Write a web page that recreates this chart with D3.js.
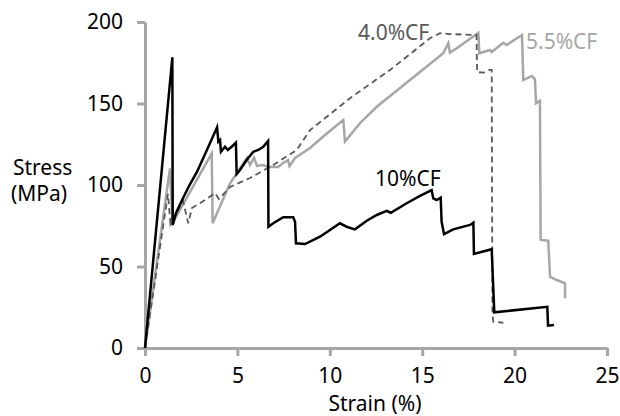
<!DOCTYPE html>
<html>
<head>
<meta charset="utf-8">
<script src="https://cdn.jsdelivr.net/npm/d3@7"></script>
<style>
  body { margin: 0; background: #fff; }
  text { font-family: "Noto Sans", sans-serif; }
</style>
</head>
<body>
<svg width="620" height="416"></svg>
<script>
// data (strain %, stress MPa)
const strain10 = [0, 1.48, 1.50, 1.68, 2.06, 2.44, 2.81, 3.35, 3.90, 3.97, 4.06, 4.11, 4.33, 4.48, 4.69, 4.92, 4.96, 5.14, 5.50, 5.86, 6.13, 6.40, 6.66, 6.68, 6.94, 7.48, 8.02, 8.12, 8.17, 8.66, 9.47, 10.55, 10.91, 11.36, 12.0, 12.54, 13.08, 13.30, 14.16, 14.88, 15.51, 15.60, 15.78, 16.0, 16.05, 16.18, 16.68, 17.59, 17.77, 17.80, 18.76, 18.90, 21.77, 21.81, 22.13];
const stress10 = [0, 178.3, 75.5, 82.8, 92.0, 100.6, 108.0, 121.5, 135.4, 126.6, 127.6, 120.4, 123.5, 121.5, 123.5, 126.0, 106.7, 109.2, 115.3, 120.4, 121.5, 123.5, 127.0, 74.4, 76.5, 80.2, 80.2, 77.5, 64.2, 63.8, 68.3, 76.5, 74.4, 72.8, 78.1, 81.6, 84.2, 83.0, 88.8, 93.3, 96.9, 91.8, 90.8, 92.2, 77.5, 69.9, 72.8, 75.5, 76.9, 57.7, 60.6, 21.9, 25.3, 13.7, 14.1];

const strain55 = [0, 1.35, 1.49, 3.61, 3.66, 4.60, 5.52, 5.68, 5.90, 6.06, 6.33, 6.76, 7.20, 7.47, 7.74, 7.82, 8.12, 8.93, 9.74, 10.73, 10.82, 11.63, 12.54, 14.34, 16.14, 16.41, 16.50, 16.87, 18.04, 18.09, 18.67, 18.76, 19.39, 19.57, 20.40, 20.47, 20.93, 21.10, 21.16, 21.37, 21.41, 21.82, 21.92, 22.28, 22.73, 22.73];
const stress55 = [0, 110.2, 76.7, 119.4, 76.5, 101.0, 116.6, 112.3, 116.6, 111.7, 112.3, 111.0, 111.0, 113.5, 115.3, 111.7, 116.6, 122.7, 130.7, 139.9, 126.6, 137.9, 148.0, 164.4, 180.8, 187.0, 181.2, 183.9, 193.4, 180.8, 182.8, 181.6, 187.3, 185.9, 192.0, 164.4, 166.9, 164.8, 150.1, 151.7, 66.3, 65.8, 43.7, 41.7, 39.7, 30.5];

const strain40 = [0, 1.24, 1.38, 2.06, 2.34, 2.54, 3.25, 3.79, 4.0, 4.60, 5.68, 6.94, 8.21, 8.93, 11.09, 13.26, 15.42, 15.96, 16.50, 17.94, 17.97, 18.31, 18.63, 18.76, 18.80, 18.85, 19.39];
const stress40 = [0, 94.5, 76.1, 90.2, 76.5, 85.9, 90.8, 95.1, 91.4, 98.8, 104.3, 112.3, 121.5, 133.7, 153.2, 170.6, 190.0, 193.1, 192.6, 192.0, 169.3, 168.9, 170.6, 170.6, 21.3, 16.1, 15.5];

const xTicks = [0, 5, 10, 15, 20, 25];
const yTicks = [0, 50, 100, 150, 200];

const svg = d3.select("svg");
const x = d3.scaleLinear().domain([0, 25]).range([145, 607]);
const y = d3.scaleLinear().domain([0, 200]).range([348, 22]);

const axisGray = "#a6a6a6";

// axes
const leftAxis = d3.axisLeft(y).tickValues(yTicks).tickSizeInner(8).tickSizeOuter(0).tickPadding(14);
const gy = svg.append("g")
  .attr("class", "left axis")
  .attr("transform", `translate(${x(0)},0)`)
  .call(leftAxis);

const bottomAxis = d3.axisBottom(x).tickValues(xTicks).tickSizeInner(8).tickSizeOuter(0).tickPadding(12);
const gx = svg.append("g")
  .attr("class", "bottom axis")
  .attr("transform", `translate(0,${y(0)})`)
  .call(bottomAxis);

[gx, gy].forEach(g => {
  g.select(".domain").attr("stroke", axisGray).attr("stroke-width", 3);
  g.selectAll(".tick line").attr("stroke", axisGray).attr("stroke-width", 3);
  g.selectAll(".tick text").attr("font-size", "21px").attr("fill", "#000")
    .style("font-family", "'Noto Sans', sans-serif");
});

// axis labels
svg.append("text")
  .attr("x", 13).attr("y", 175)
  .attr("font-size", "21px")
  .text("Stress");
svg.append("text")
  .attr("x", 11).attr("y", 201)
  .attr("font-size", "21px")
  .text("(MPa)");
svg.append("text")
  .attr("x", 375).attr("y", 411)
  .attr("text-anchor", "middle")
  .attr("font-size", "21px")
  .text("Strain (%)");

// curves
const line = d3.line().x(d => x(d[0])).y(d => y(d[1]));
const toPts = (xs, ys) => xs.map((v, i) => [v, ys[i]]);

svg.append("path")
  .datum(toPts(strain55, stress55))
  .attr("fill", "none")
  .attr("stroke", axisGray)
  .attr("stroke-width", 2.5)
  .attr("d", line);

svg.append("path")
  .datum(toPts(strain40, stress40))
  .attr("fill", "none")
  .attr("stroke", "#595959")
  .attr("stroke-width", 1.8)
  .attr("stroke-dasharray", "6,4")
  .attr("d", line);

svg.append("path")
  .datum(toPts(strain10, stress10))
  .attr("fill", "none")
  .attr("stroke", "#000")
  .attr("stroke-width", 2.5)
  .attr("d", line);

// series labels
svg.append("text")
  .attr("x", 358).attr("y", 40)
  .attr("font-size", "21px")
  .attr("fill", "#595959")
  .text("4.0%CF");
svg.append("text")
  .attr("x", 526).attr("y", 49)
  .attr("font-size", "21px")
  .attr("fill", axisGray)
  .text("5.5%CF");
svg.append("text")
  .attr("x", 375).attr("y", 186)
  .attr("font-size", "21px")
  .attr("fill", "#000")
  .text("10%CF");
</script>
</body>
</html>
